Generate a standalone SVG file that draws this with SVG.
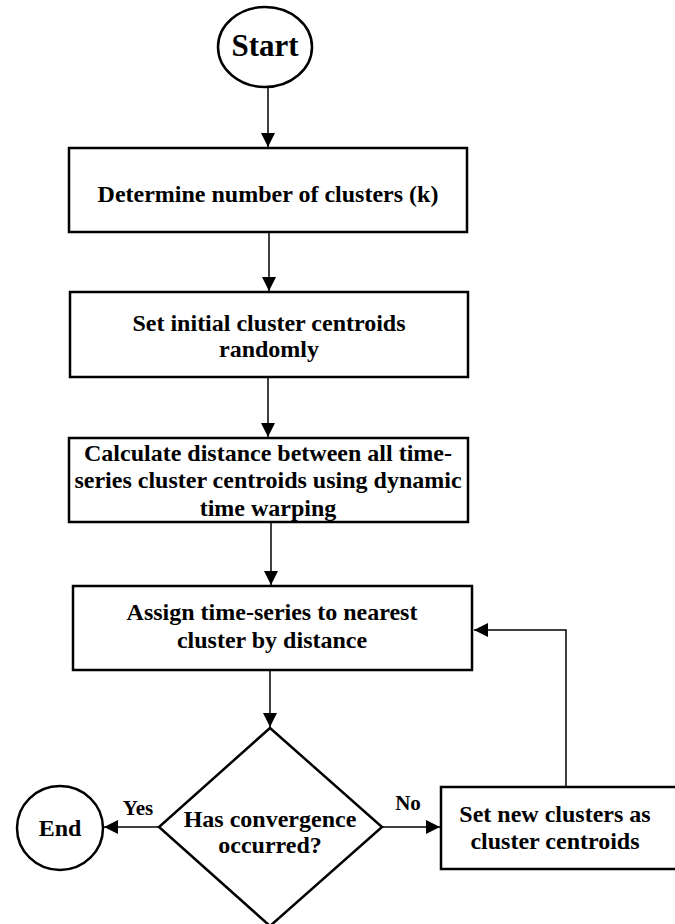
<svg xmlns="http://www.w3.org/2000/svg" width="675" height="924" viewBox="0 0 675 924">
<defs>
<marker id="ah" viewBox="0 0 10 10" refX="10" refY="5" markerWidth="14" markerHeight="14" markerUnits="userSpaceOnUse" orient="auto"><path d="M0,0 L10,5 L0,10 Z" fill="#000"/></marker>
</defs>
<style>
.n{fill:#fff;stroke:#000;stroke-width:2.5}
.t{font-family:"Liberation Serif","Times New Roman",serif;font-weight:bold;font-size:24px;fill:#000;text-anchor:middle}
.s{font-family:"Liberation Serif","Times New Roman",serif;font-weight:bold;font-size:21px;fill:#000;text-anchor:middle}
.c{fill:none;stroke:#000;stroke-width:1.5}
</style>
<rect width="675" height="924" fill="#fff"/>
<g id="connectors">
<line class="c" x1="268" y1="87" x2="268" y2="147" marker-end="url(#ah)"/>
<line class="c" x1="269" y1="232" x2="269" y2="291" marker-end="url(#ah)"/>
<line class="c" x1="268" y1="377" x2="268" y2="437" marker-end="url(#ah)"/>
<line class="c" x1="271" y1="522" x2="271" y2="585" marker-end="url(#ah)"/>
<line class="c" x1="270" y1="670" x2="270" y2="727" marker-end="url(#ah)"/>
<line class="c" x1="159" y1="827" x2="104" y2="827" marker-end="url(#ah)"/>
<line class="c" x1="382" y1="827" x2="440" y2="827" marker-end="url(#ah)"/>
<polyline class="c" points="566,786 566,630 474,630" marker-end="url(#ah)"/>
<text class="s" x="138" y="815">Yes</text>
<text class="s" x="408" y="810">No</text>
</g>
<g id="start">
<ellipse class="n" cx="265" cy="47" rx="47" ry="40"/>
<text class="t" x="265" y="56" style="font-size:31px">Start</text>
</g>
<g id="determine">
<rect class="n" x="69" y="148" width="398" height="84"/>
<text class="t" x="268" y="202">Determine number of clusters (k)</text>
</g>
<g id="init">
<rect class="n" x="70" y="292" width="398" height="85"/>
<text class="t" x="269" y="331">Set initial cluster centroids</text>
<text class="t" x="269" y="357">randomly</text>
</g>
<g id="distance">
<rect class="n" x="69" y="438" width="399" height="84"/>
<text class="t" x="268" y="461">Calculate distance between all time-</text>
<text class="t" x="268" y="488">series cluster centroids using dynamic</text>
<text class="t" x="268" y="516">time warping</text>
</g>
<g id="assign">
<rect class="n" x="73" y="586" width="399" height="84"/>
<text class="t" x="272" y="620">Assign time-series to nearest</text>
<text class="t" x="272" y="648">cluster by distance</text>
</g>
<g id="decision">
<polygon class="n" points="270,728 382,827 270,926 159,827"/>
<text class="t" x="270" y="827">Has convergence</text>
<text class="t" x="270" y="853">occurred?</text>
</g>
<g id="end">
<ellipse class="n" cx="60" cy="828" rx="43" ry="42"/>
<text class="t" x="60" y="836">End</text>
</g>
<g id="newclusters">
<rect class="n" x="441" y="787" width="250" height="82"/>
<text class="t" x="555" y="822">Set new clusters as</text>
<text class="t" x="555" y="849">cluster centroids</text>
</g>
</svg>
